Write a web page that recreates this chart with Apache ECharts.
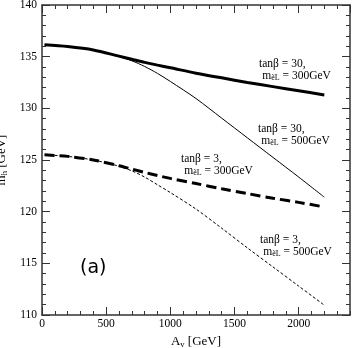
<!DOCTYPE html>
<html><head><meta charset="utf-8">
<script src="https://cdn.jsdelivr.net/npm/echarts@6/dist/echarts.min.js"></script>
<style>html,body{margin:0;padding:0;background:#fff}#c{width:354px;height:348px}</style>
</head><body><div id="c"></div>
<script>
var aValues = [20, 200, 400, 600, 700, 800, 900, 1000, 1200, 1400, 1600, 1800, 2000, 2200];
var tb30_300 = [136.15, 135.98, 135.65, 135.05, 134.75, 134.45, 134.18, 133.93, 133.4, 132.95, 132.5, 132.1, 131.7, 131.3];
var tb30_500 = [136.15, 135.98, 135.65, 135.0, 134.6, 134.05, 133.38, 132.6, 130.95, 129.05, 127.15, 125.25, 123.35, 121.4];
var tb3_300  = [125.5, 125.35, 125.0, 124.45, 124.12, 123.8, 123.5, 123.22, 122.72, 122.22, 121.75, 121.3, 120.9, 120.45];
var tb3_500  = [125.5, 125.35, 125.0, 124.4, 123.95, 123.35, 122.6, 121.85, 120.25, 118.4, 116.5, 114.65, 112.8, 110.95];
var xTicks = [0, 500, 1000, 1500, 2000];
var yTicks = [110, 115, 120, 125, 130, 135, 140];

function pairs(ys){ return aValues.map(function(a,i){ return [a, ys[i]]; }); }

var serif = '"Liberation Serif","DejaVu Serif",serif';
var axisCol = '#333';
function xAx(pos, interval, len, labels, line){
  return {type:'value', min:0, max:2400, interval:interval, position:pos,
    axisLine:{show:line, onZero:false, lineStyle:{color:axisCol, width:1.5}},
    axisTick:{show:true, inside:true, length:len, lineStyle:{color:axisCol, width:1}},
    splitLine:{show:false},
    axisLabel:{show:labels, margin:3, fontFamily:serif, fontSize:11.5, color:'#000',
      showMaxLabel:false,
      formatter:function(v){ return xTicks.indexOf(v)>=0 ? String(v) : ''; }},
    name: labels ? '{a|A}{s|v}{a| [GeV]}' : '',
    nameLocation:'middle', nameGap:16,
    nameTextStyle:{rich:{a:{fontFamily:serif,fontSize:13,color:'#000'},
                         s:{fontFamily:serif,fontSize:8.5,color:'#000',padding:[6,0,0,0]}}}
  };
}
function yAx(pos, labels){
  return {type:'value', min:110, max:140, interval:5, position:pos,
    axisLine:{show:true, onZero:false, lineStyle:{color:axisCol, width:1.5}},
    axisTick:{show:true, inside:true, length:8, lineStyle:{color:axisCol, width:1}},
    minorTick:{show:true, splitNumber:5, length:4, lineStyle:{color:axisCol, width:1}},
    splitLine:{show:false}, minorSplitLine:{show:false},
    axisLabel:{show:labels, margin:5, fontFamily:serif, fontSize:11.5, color:'#000',
      formatter:function(v){ return yTicks.indexOf(v)>=0 ? String(v) : ''; }},
    name: labels ? '{a|m}{s|h}{a| [GeV]}' : '',
    nameLocation:'middle', nameGap:22, nameRotate:90,
    nameTextStyle:{rich:{a:{fontFamily:serif,fontSize:13,color:'#000'},
                         s:{fontFamily:serif,fontSize:8.5,color:'#000',padding:[6,0,0,0]}}}
  };
}

function lbl(x, y, tb, msl){
  return {type:'text', left:x, top:y, style:{
    text:'{a|tanβ = ' + tb + ',}\n {a|m}{s|ẽL}{a| = ' + msl + 'GeV}',
    rich:{a:{fontFamily:serif, fontSize:11.5, fill:'#000', lineHeight:11},
          s:{fontFamily:serif, fontSize:8, fill:'#000', padding:[5,0,0,0], lineHeight:11}}
  }};
}

var chart = echarts.init(document.getElementById('c'), null, {renderer:'canvas'});
chart.setOption({
  animation:false,
  grid:{left:42, top:5, right:4, bottom:33, containLabel:false, outerBoundsMode:'none'},
  xAxis:[xAx('bottom',500,8,true,true), xAx('bottom',100,4,false,false),
         xAx('top',500,8,false,true), xAx('top',100,4,false,false)],
  yAxis:[yAx('left',true), yAx('right',false)],
  series:[
    {type:'line', data:pairs(tb30_300), showSymbol:false, smooth:0.3,
     lineStyle:{color:'#000', width:3}},
    {type:'line', data:pairs(tb30_500), showSymbol:false, smooth:0.3,
     lineStyle:{color:'#000', width:1}},
    {type:'line', data:pairs(tb3_300), showSymbol:false, smooth:0.3,
     lineStyle:{color:'#000', width:3, type:[10,5]}},
    {type:'line', data:pairs(tb3_500), showSymbol:false, smooth:0.3,
     lineStyle:{color:'#000', width:1, type:[3,2]}}
  ],
  graphic:[
    lbl(259, 58, '30', '300'),
    lbl(258, 123, '30', '500'),
    lbl(181, 153, '3', '300'),
    lbl(260, 234, '3', '500'),
    {type:'text', left:80, top:259, style:{text:'(a)', fontFamily:'"DejaVu Sans",sans-serif', fontSize:19, fill:'#000'}}
  ]
});
</script></body></html>
